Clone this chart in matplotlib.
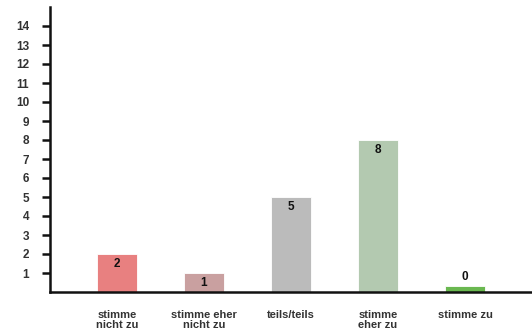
import matplotlib
matplotlib.use("Agg")
import matplotlib.pyplot as plt

categories = ["stimme\nnicht zu", "stimme eher\nnicht zu", "teils/teils", "stimme\neher zu", "stimme zu"]
values = [2, 1, 5, 8, 0]
colors = ["#e88080", "#c9a0a0", "#bbbbbb", "#b3c9b0", "#6ab850"]
y_ticks = list(range(1, 15))

plt.rcParams['font.family'] = ['Liberation Sans', 'DejaVu Sans']

fig = plt.figure(figsize=(5.32, 3.32), dpi=100)
ax = fig.add_axes([50 / 532, 40 / 332, 482 / 532, 285 / 332])

x = list(range(len(categories)))
# zero bars still get a small visible stub, as in the original
shown = [max(v, 0.3) for v in values]
ax.bar(x, shown, width=0.45, color=colors, edgecolor="white", linewidth=0.6, zorder=2)

for xi, v, h in zip(x, values, shown):
    if v == 0:
        ax.text(xi, h + 0.15, str(v), ha="center", va="bottom", fontsize=8.5, fontweight="bold", color="#111")
    else:
        ax.text(xi, h - 0.2, str(v), ha="center", va="top", fontsize=8.5, fontweight="bold", color="#111")

ax.set_xlim(-0.77, 4.77)
ax.set_ylim(0, 15)
ax.set_yticks(y_ticks)
ax.set_xticks(x)
ax.set_xticklabels(categories, linespacing=1.0)

for s in ["top", "right"]:
    ax.spines[s].set_visible(False)
for s in ["left", "bottom"]:
    ax.spines[s].set_linewidth(1.8)
    ax.spines[s].set_color("#111")

ax.tick_params(axis="y", direction="out", length=6, width=1.8, color="#111",
               pad=9, labelsize=8.5, labelcolor="#333")
ax.tick_params(axis="x", length=0, pad=13, labelsize=8, labelcolor="#333")
for lbl in ax.get_yticklabels() + ax.get_xticklabels():
    lbl.set_fontweight("bold")

fig.savefig("out.png", dpi=100)
